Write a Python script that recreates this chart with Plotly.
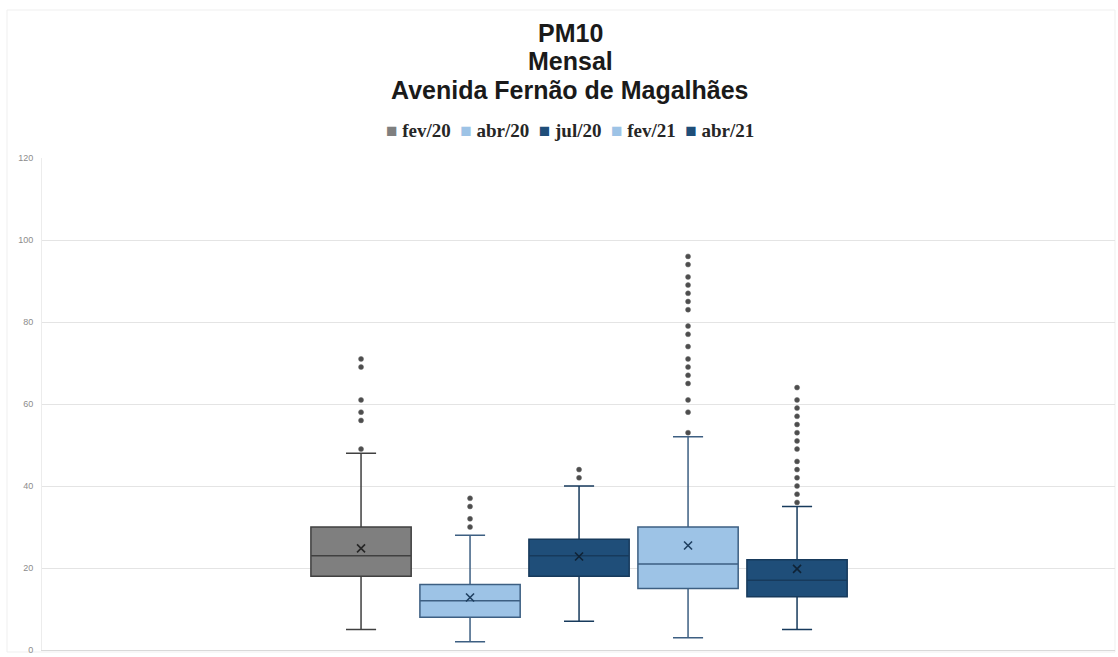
import plotly.graph_objects as go

# ---- data ----
categories = ["fev/20", "abr/20", "jul/20", "fev/21", "abr/21"]
q1 = [18, 8, 18, 15, 13]
median = [23, 12, 23, 21, 17]
q3 = [30, 16, 27, 30, 22]
lower_fence = [5, 2, 7, 3, 5]
upper_fence = [48, 28, 40, 52, 35]
means = [24.8, 12.8, 22.8, 25.5, 19.8]
outliers_fev20 = [71, 69, 61, 58, 56, 49]
outliers_abr20 = [37, 35, 32, 30]
outliers_jul20 = [44, 42]
outliers_fev21 = [96, 94, 91, 89, 87, 85, 83, 79, 77, 74, 71, 69, 67, 65, 61, 58, 53]
outliers_abr21 = [64, 61, 59, 57, 55, 53, 51, 49, 46, 44, 42, 40, 38, 36]
outliers = [outliers_fev20, outliers_abr20, outliers_jul20, outliers_fev21, outliers_abr21]
y_ticks = [0, 20, 40, 60, 80, 100, 120]

# ---- styles ----
fill_colors = ["#7f7f7f", "#9dc3e6", "#1f4e79", "#9dc3e6", "#1f4e79"]
line_colors = ["#404040", "#3d5f82", "#173a5c", "#3d5f82", "#173a5c"]
mean_colors = ["#262626", "#1f3f60", "#0f2336", "#1f3f60", "#0f2336"]
legend_square_colors = ["#7f7f7f", "#9dc3e6", "#1f4e79", "#9dc3e6", "#1f4e79"]

fig = go.Figure()

for i, cat in enumerate(categories):
    fig.add_trace(go.Box(
        name=cat,
        x=[cat],
        q1=[q1[i]], median=[median[i]], q3=[q3[i]],
        lowerfence=[lower_fence[i]], upperfence=[upper_fence[i]],
        fillcolor=fill_colors[i],
        line=dict(color=line_colors[i], width=1.5),
        whiskerwidth=0.3,
        width=0.92,
        boxpoints=False,
        showlegend=False,
        hoverinfo="skip",
    ))

for i, cat in enumerate(categories):
    fig.add_trace(go.Scatter(
        x=[cat] * len(outliers[i]), y=outliers[i],
        mode="markers",
        marker=dict(symbol="circle", size=5, color="#4d4d4d",
                    line=dict(color="#6b6b6b", width=0.5)),
        showlegend=False, hoverinfo="skip",
    ))
    fig.add_trace(go.Scatter(
        x=[cat], y=[means[i]],
        mode="markers",
        marker=dict(symbol="x-thin-open", size=8, color=mean_colors[i],
                    line=dict(color=mean_colors[i], width=1.6)),
        showlegend=False, hoverinfo="skip",
    ))

H = 657
top, bottom, left, right = 158, 7, 42, 3
plot_h = H - top - bottom
plot_w = 1118 - left - right
cx = (570 - left) / plot_w

title_lines = ["PM10", "Mensal", "Avenida Fernão de Magalhães"]
title_y = [33, 61, 90]
annotations = []
for txt, yp in zip(title_lines, title_y):
    annotations.append(dict(
        text=f"<b>{txt}</b>", xref="paper", yref="paper",
        x=cx, y=(H - bottom - yp) / plot_h,
        xanchor="center", yanchor="middle", showarrow=False,
        font=dict(family="Liberation Sans, Arial", size=25, color="#1a1a1a"),
    ))

# legend drawn as a single text line with coloured squares
legend_parts = [
    f"<span style='color:{c}'>■</span>&nbsp;{cat}"
    for c, cat in zip(legend_square_colors, categories)
]
annotations.append(dict(
    text="<b>" + "&nbsp;&nbsp;".join(legend_parts) + "</b>",
    xref="paper", yref="paper", x=cx, y=(H - bottom - 130) / plot_h,
    xanchor="center", yanchor="middle", showarrow=False,
    font=dict(family="Liberation Serif, Times New Roman", size=19, color="#262626"),
))

fig.update_layout(
    width=1118, height=657,
    margin=dict(l=left, r=right, t=top, b=bottom),
    paper_bgcolor="white", plot_bgcolor="white",
    annotations=annotations,
    showlegend=False,
    xaxis=dict(
        type="category", categoryorder="array", categoryarray=categories,
        range=[-2.927, 6.917], showticklabels=False, showgrid=False,
        zeroline=False, showline=True, linecolor="#d9d9d9", ticks="",
        fixedrange=True,
    ),
    yaxis=dict(
        range=[0, 120], tickvals=y_ticks, showgrid=True, gridcolor="#e4e4e4",
        gridwidth=1, zeroline=False, showline=True, linecolor="#ececec",
        tickfont=dict(family="Liberation Sans, Arial", size=9, color="#8c8c8c"),
        ticks="", ticklabelstandoff=6,
    ),
    shapes=[dict(type="rect", xref="paper", yref="paper",
                 x0=(7 - left) / plot_w, x1=1.0,
                 y0=(H - bottom - 652) / plot_h, y1=(H - bottom - 10) / plot_h,
                 line=dict(color="#efefef", width=1), layer="below")],
)

fig.write_html("out.html")
